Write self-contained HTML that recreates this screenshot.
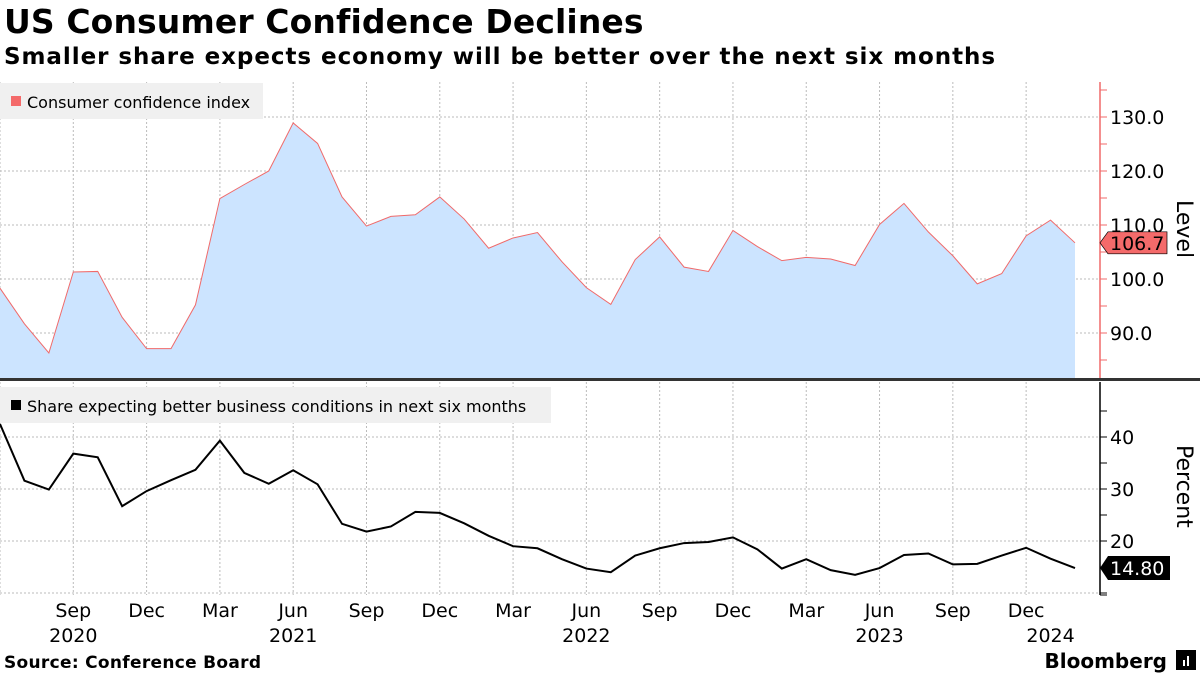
<!DOCTYPE html>
<html><head><meta charset="utf-8"><style>
body{margin:0;width:1200px;height:675px;background:#fff;overflow:hidden;font-family:"DejaVu Sans","Liberation Sans",sans-serif;}
.t{position:absolute;left:4px;top:2px;font:bold 33px "DejaVu Sans","Liberation Sans",sans-serif;color:#000;letter-spacing:0.1px}
.s{position:absolute;left:4px;top:44px;font:bold 23px "DejaVu Sans","Liberation Sans",sans-serif;color:#000;letter-spacing:0.95px}
svg{position:absolute;left:0;top:0}
</style></head><body>
<div class="t">US Consumer Confidence Declines</div>
<div class="s">Smaller share expects economy will be better over the next six months</div>
<svg id="c" width="1200" height="675"></svg>
<script>
const conf=[98.3,91.7,86.3,101.3,101.4,92.9,87.1,87.1,95.2,114.9,117.5,120.0,128.9,125.1,115.2,109.8,111.6,111.9,115.2,111.1,105.7,107.6,108.6,103.2,98.4,95.3,103.6,107.8,102.2,101.4,109.0,106.0,103.4,104.0,103.7,102.5,110.1,114.0,108.7,104.3,99.1,101.0,108.0,110.9,106.7];
const share=[42.5,31.6,29.9,36.8,36.1,26.7,29.6,31.7,33.7,39.3,33.1,31.0,33.6,30.9,23.3,21.8,22.8,25.6,25.4,23.4,21.0,19.0,18.6,16.5,14.7,14.0,17.2,18.6,19.6,19.8,20.7,18.4,14.7,16.5,14.4,13.5,14.8,17.3,17.6,15.5,15.6,17.2,18.7,16.6,14.8];
const topTicks=[90,100,110,120,130];
const botTicks=[20,30,40];
const monthLabels=["Sep","Dec","Mar","Jun","Sep","Dec","Mar","Jun","Sep","Dec","Mar","Jun","Sep","Dec"];
const yearLabels=[["2020",3],["2021",12],["2022",24],["2023",36],["2024",43]];
const NS="http://www.w3.org/2000/svg",svg=document.getElementById('c');
function el(t,a,txt){const e=document.createElementNS(NS,t);for(const k in a)e.setAttribute(k,a[k]);if(txt!=null)e.textContent=txt;svg.appendChild(e);return e;}
const x=i=>i*1075/44;
const yT=v=>117+(130-v)*5.4;
const yB=v=>437+(40-v)*5.2;
for(let k=0;k<=14;k++){const gx=x(3*k);
 let g=el('line',{x1:gx,x2:gx,y1:82,y2:378,stroke:'#bbb','stroke-dasharray':'2,2'});
 g=el('line',{x1:gx,x2:gx,y1:382,y2:595,stroke:'#bbb','stroke-dasharray':'2,2'});}
topTicks.forEach(v=>{const g=el('line',{x1:0,x2:1100,y1:yT(v),y2:yT(v),stroke:'#bbb','stroke-dasharray':'2,2'});});
botTicks.concat([10]).forEach(v=>{const g=el('line',{x1:0,x2:1100,y1:yB(v),y2:yB(v),stroke:'#bbb','stroke-dasharray':'2,2'});});
let d='M0,378';conf.forEach((v,i)=>d+=' L'+x(i)+','+yT(v));d+=' L'+x(conf.length-1)+',378Z';
let a=el('path',{d:d,fill:'#cce4ff'});
let p=el('polyline',{points:conf.map((v,i)=>x(i)+','+yT(v)).join(' '),fill:'none',stroke:'#f06a6a','stroke-width':1});

let q=el('polyline',{points:share.map((v,i)=>x(i)+','+yB(v)).join(' '),fill:'none',stroke:'#000','stroke-width':2});

let ax=el('line',{x1:1100,x2:1100,y1:82,y2:378,stroke:'#f06a6a','stroke-width':1.5});
ax=el('line',{x1:1100,x2:1100,y1:382,y2:595,stroke:'#000','stroke-width':1.5});
for(let v=85;v<=135;v+=5){const yy=yT(v);if(yy<84||yy>378)continue;const tk=el('line',{x1:1100,x2:1107,y1:yy,y2:yy,stroke:'#f06a6a'});}
for(let v=10;v<=45;v+=5){const yy=yB(v);if(yy>595)continue;const tk=el('line',{x1:1100,x2:1107,y1:yy,y2:yy,stroke:'#000'});}
el('line',{x1:1100,x2:1107,y1:595,y2:595,stroke:'#000'});
topTicks.forEach(v=>{const t=el('text',{x:1110,y:yT(v)+7,'font-size':19,fill:'#000'},v.toFixed(1));});
botTicks.forEach(v=>{const t=el('text',{x:1110,y:yB(v)+7,'font-size':19,fill:'#000'},String(v));});
let t=el('text',{x:0,y:0,'font-size':22,transform:'translate(1177,200) rotate(90)'},'Level');
t=el('text',{x:0,y:0,'font-size':22,transform:'translate(1177,445) rotate(90)'},'Percent');
let dv=el('rect',{x:0,y:378,width:1200,height:3,fill:'#333'});
const lc=conf[conf.length-1],yc=yT(lc);
let b=el('path',{d:`M1100,${yc} L1108,${yc-11} H1167 V${yc+11} H1108 Z`,fill:'#f46a6a',stroke:'#000','stroke-width':0.7});
t=el('text',{x:1110,y:yc+7,'font-size':19},lc.toFixed(1));
const ls=share[share.length-1],ys=yB(ls);
b=el('path',{d:`M1100,${ys} L1108,${ys-12} H1170 V${ys+12} H1108 Z`,fill:'#000'});
t=el('text',{x:1110,y:ys+7,'font-size':19,fill:'#fff'},ls.toFixed(2));
monthLabels.forEach((m,k)=>{const tt=el('text',{x:x(3+3*k),y:617,'font-size':19,'text-anchor':'middle'},m);});
yearLabels.forEach(([yy,i])=>{const tt=el('text',{x:x(i),y:642,'font-size':19,'text-anchor':'middle'},yy);});
let lg=el('rect',{x:0,y:83,width:263,height:36,fill:'#f0f0f0'});
el('rect',{x:11,y:96,width:10,height:10,fill:'#f46a6a'});
t=el('text',{x:27,y:108,'font-size':16},'Consumer confidence index');
lg=el('rect',{x:0,y:387,width:551,height:36,fill:'#f0f0f0'});
el('rect',{x:11,y:400,width:10,height:10,fill:'#000'});
t=el('text',{x:27,y:412,'font-size':16},'Share expecting better business conditions in next six months');
t=el('text',{x:4,y:668,'font-size':17,'font-weight':'bold','letter-spacing':0.3},'Source: Conference Board');
t=el('text',{x:1167,y:668,'font-size':20,'font-weight':'bold','text-anchor':'end'},'Bloomberg');
el('rect',{x:1176,y:650,width:20,height:20,fill:'#000'});
el('rect',{x:1183,y:660,width:2,height:6,fill:'#fff'});el('rect',{x:1187,y:656,width:2,height:10,fill:'#fff'});
</script>
</body></html>
